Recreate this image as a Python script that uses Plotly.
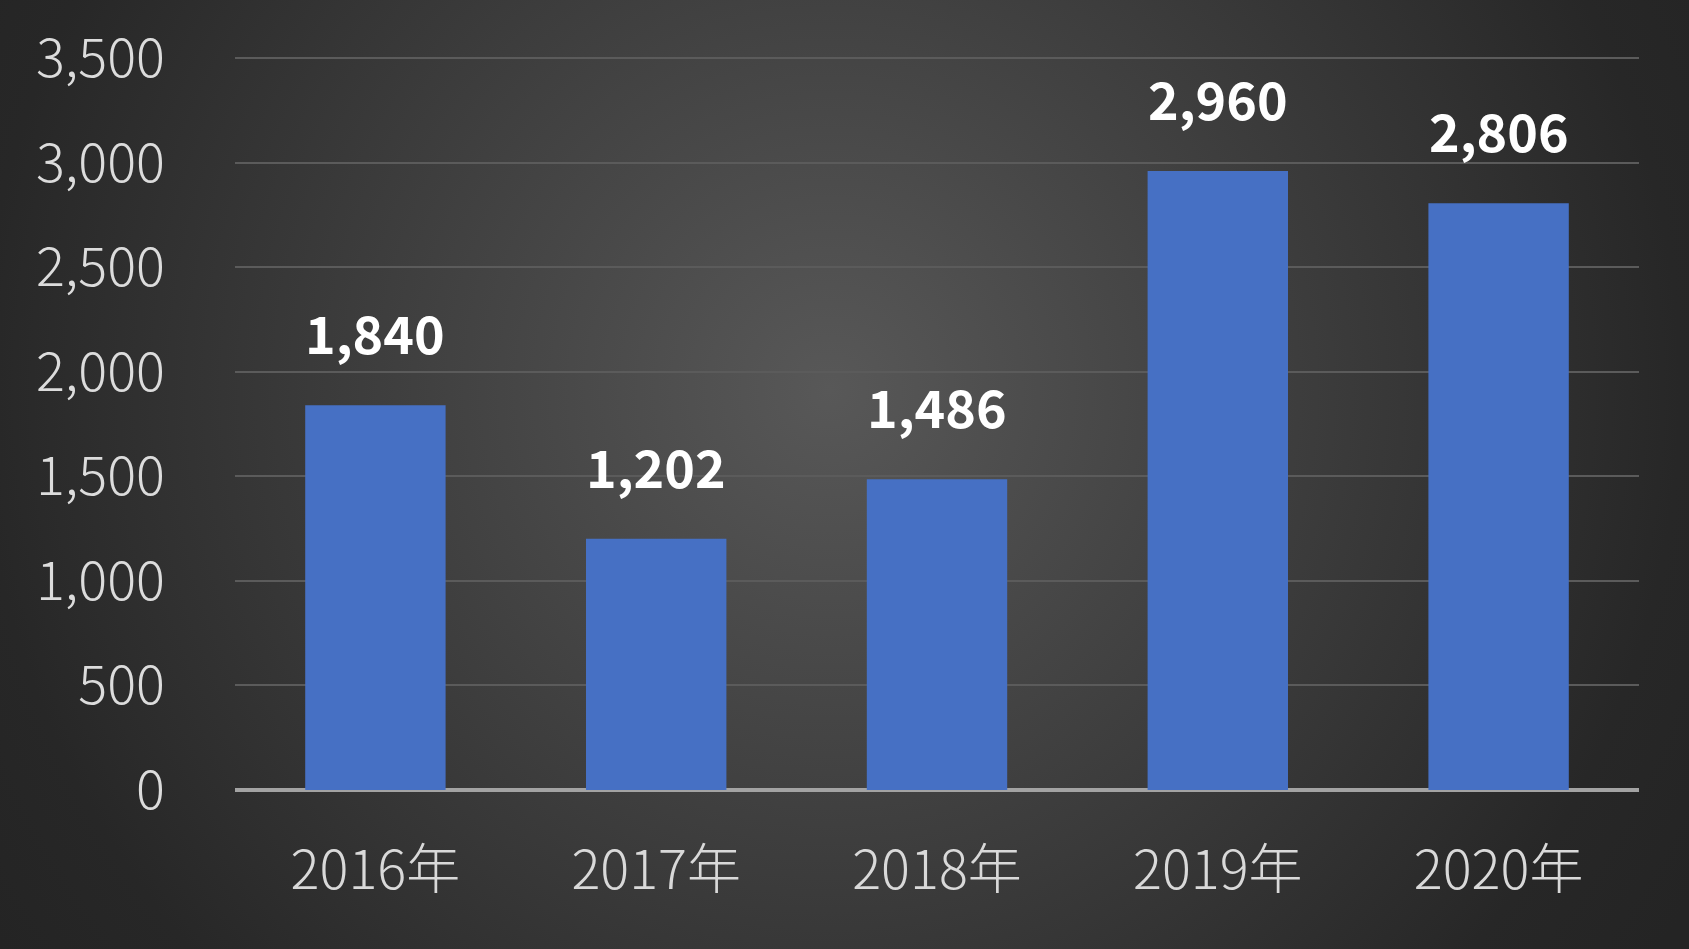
import base64
import plotly.graph_objects as go

categories = ["2016年", "2017年", "2018年", "2019年", "2020年"]
values = [1840, 1202, 1486, 2960, 2806]
y_ticks = [0, 500, 1000, 1500, 2000, 2500, 3000, 3500]
y_tick_labels = ["0", "500", "1,000", "1,500", "2,000", "2,500", "3,000", "3,500"]
value_labels = ["1,840", "1,202", "1,486", "2,960", "2,806"]

W, H = 1689, 949
ML, MR, MT, MB = 235, 50, 54, 159
PW, PH = W - ML - MR, H - MT - MB
FONT = "Noto Sans CJK JP, Noto Sans, sans-serif"

svg = f"""<svg xmlns='http://www.w3.org/2000/svg' width='{W}' height='{H}' viewBox='0 0 {W} {H}' preserveAspectRatio='none'>
<defs><radialGradient id='g' gradientUnits='userSpaceOnUse' cx='830' cy='390' r='1000'>
<stop offset='0' stop-color='#585858'/><stop offset='0.85' stop-color='#272727'/><stop offset='1' stop-color='#242424'/>
</radialGradient></defs>
<rect width='{W}' height='{H}' fill='url(#g)'/></svg>"""
bg_uri = "data:image/svg+xml;base64," + base64.b64encode(svg.encode()).decode()

fig = go.Figure()
fig.add_trace(go.Bar(
    x=categories, y=values,
    marker=dict(color="#4670c4", line=dict(width=0)),
    hoverinfo="skip",
))

for c, v, t in zip(categories, values, value_labels):
    fig.add_annotation(
        x=c, y=v, text=t, showarrow=False, yanchor="bottom", yshift=34,
        font=dict(family=FONT, size=52, color="#ffffff", weight="bold"),
    )

fig.update_layout(
    width=W, height=H,
    margin=dict(l=ML, r=MR, t=MT, b=MB),
    paper_bgcolor="#2b2b2b",
    plot_bgcolor="rgba(0,0,0,0)",
    bargap=0.5,
    showlegend=False,
    images=[dict(source=bg_uri, xref="paper", yref="paper",
                 x=-ML / PW, y=1 + MT / PH, sizex=W / PW, sizey=H / PH,
                 xanchor="left", yanchor="top", layer="below", sizing="stretch")],
    xaxis=dict(
        showgrid=False, showline=False, zeroline=False, ticks="",
        tickfont=dict(family=FONT, size=54, color="#d9d9d9", weight=300),
        ticklabelstandoff=44,
    ),
    yaxis=dict(
        range=[0, 3520], tickvals=y_ticks, ticktext=y_tick_labels,
        showgrid=True, gridcolor="#5b5b5b", gridwidth=2,
        zeroline=True, zerolinecolor="#a3a3a3", zerolinewidth=4,
        showline=False, ticks="",
        tickfont=dict(family=FONT, size=54, color="#dcdcdc", weight=300),
        ticklabelstandoff=69,
    ),
)
fig.write_html(
    "out.html",
    config={"displayModeBar": False, "staticPlot": True},
    post_script="document.body.style.margin='0';document.body.style.background='#2b2b2b';document.body.style.overflow='hidden';",
)
